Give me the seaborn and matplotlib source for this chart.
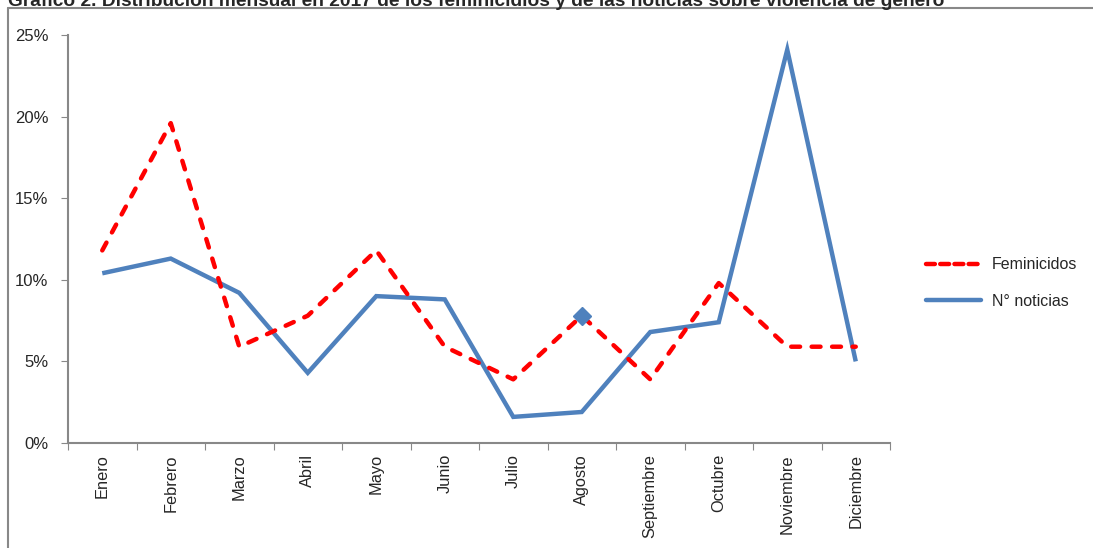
import matplotlib
matplotlib.use('Agg')
import matplotlib.pyplot as plt
import matplotlib.lines as mlines
import seaborn as sns
import pandas as pd
import numpy as np

# %%
meses = ['Enero', 'Febrero', 'Marzo', 'Abril', 'Mayo', 'Junio', 'Julio',
         'Agosto', 'Septiembre', 'Octubre', 'Noviembre', 'Diciembre']
feminicidios = [11.8, 19.6, 5.9, 7.8, 11.8, 5.9, 3.9, 7.8, 3.9, 9.8, 5.9, 5.9]
noticias = [10.4, 11.3, 9.2, 4.3, 9.0, 8.8, 1.6, 1.9, 6.8, 7.4, 24.1, 5.0]
marca_agosto = 7.8

df = pd.DataFrame({'mes': meses, 'pos': np.arange(len(meses)),
                   'Feminicidos': feminicidios, 'N° noticias': noticias})

# %%
sns.set_style('white')
plt.rcParams['font.family'] = ['Liberation Sans', 'DejaVu Sans']

fig = plt.figure(figsize=(10.93, 5.48), dpi=100)
ax = fig.add_axes([68 / 1093, 1 - 443 / 548, (890 - 68) / 1093, (443 - 35) / 548])

rojo = '#FF0000'
azul = '#4F81BD'

sns.lineplot(data=df, x='pos', y='N° noticias', ax=ax, color=azul, lw=3.2,
             solid_capstyle='butt', solid_joinstyle='miter', zorder=2)
sns.lineplot(data=df, x='pos', y='Feminicidos', ax=ax, color=rojo, lw=3.2,
             zorder=3)
ax.lines[-1].set_dashes((2.0, 2.6))
ax.lines[-1].set_dash_capstyle('round')
ax.plot([7], [marca_agosto], marker='D', markersize=9, color=azul,
        linestyle='none', zorder=4)

ax.set_xlim(-0.5, 11.5)
ax.set_ylim(0, 25)
ax.set_yticks([0, 5, 10, 15, 20, 25])
ax.set_yticklabels([f'{v}%' for v in [0, 5, 10, 15, 20, 25]], fontsize=12)
ax.set_xticks(np.arange(-0.5, 12, 1))
ax.set_xticklabels([])
ax.set_xticks(np.arange(12), minor=True)
ax.set_xticklabels(meses, minor=True, rotation=90, fontsize=11.8, va='top')
ax.tick_params(axis='x', which='minor', length=0, pad=8)
ax.tick_params(axis='x', which='major', length=5, color='#888888', direction='out', bottom=True)
ax.tick_params(axis='y', length=5, color='#888888', direction='out', left=True, pad=9)
ax.set_xlabel('')
ax.set_ylabel('')
for s in ['top', 'right']:
    ax.spines[s].set_visible(False)
for s in ['left', 'bottom']:
    ax.spines[s].set_color('#888888')
    ax.spines[s].set_linewidth(1.5)

# leyenda
h1 = mlines.Line2D([], [], color=rojo, lw=3.2, dashes=(2.0, 1.2), dash_capstyle='round')
h2 = mlines.Line2D([], [], color=azul, lw=3.2, solid_capstyle='round')
fig.legend([h1, h2], ['Feminicidos', 'N° noticias'], loc='center left',
           bbox_to_anchor=(912 / 1093, 1 - 283 / 548), frameon=False,
           fontsize=11.5, handlelength=3.4, handletextpad=0.7, labelspacing=1.35)

# marco y titulo
fig.add_artist(mlines.Line2D([8 / 1093, 8 / 1093], [0, 1 - 8 / 548], color='#888888', lw=1.5))
fig.add_artist(mlines.Line2D([8 / 1093, 1], [1 - 8 / 548, 1 - 8 / 548], color='#888888', lw=1.5))
fig.text(8 / 1093, 1 - 6 / 548,
         'Gráfico 2. Distribución mensual en 2017 de los feminicidios y de las noticias sobre violencia de género',
         fontsize=13.8, fontweight='bold', va='baseline', ha='left',
         family=['Liberation Sans Narrow', 'Liberation Sans', 'DejaVu Sans'])

fig.savefig('out.png', dpi=100)
